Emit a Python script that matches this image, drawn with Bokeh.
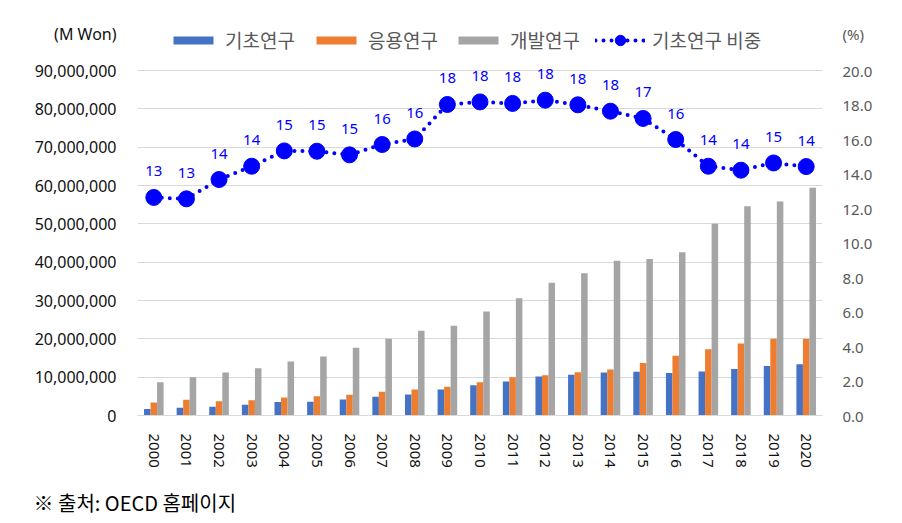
import math
from bokeh.plotting import figure
from bokeh.models import (FactorRange, Range1d, LinearAxis, FixedTicker, NumeralTickFormatter,
                          ColumnDataSource, LabelSet, Legend, LegendItem, Title)
from bokeh.transform import dodge
from bokeh.core.properties import value
from bokeh.embed import file_html
from bokeh.resources import INLINE

# ---------------- data ----------------
years = [str(y) for y in range(2000, 2021)]
basic = [1720000, 2000000, 2300000, 2800000, 3500000, 3600000, 4200000, 4900000, 5500000, 6800000,
         7900000, 8900000, 10200000, 10600000, 11200000, 11400000, 11100000, 11500000, 12100000,
         12900000, 13400000]
applied = [3400000, 4100000, 3700000, 4000000, 4700000, 5000000, 5400000, 6200000, 6800000, 7500000,
           8700000, 10000000, 10500000, 11300000, 12000000, 13700000, 15600000, 17300000, 18800000,
           20000000, 20000000]
development = [8700000, 10000000, 11200000, 12300000, 14100000, 15400000, 17700000, 20000000,
               22100000, 23400000, 27100000, 30600000, 34600000, 37100000, 40400000, 40800000,
               42600000, 50000000, 54600000, 55800000, 59400000]
share = [12.64, 12.56, 13.68, 14.45, 15.34, 15.32, 15.11, 15.71, 16.03, 18.03, 18.18, 18.09,
         18.28, 18.01, 17.64, 17.22, 16.00, 14.45, 14.22, 14.64, 14.43]
series_names = ["기초연구", "응용연구", "개발연구", "기초연구 비중"]
left_ticks = [0, 10000000, 20000000, 30000000, 40000000, 50000000, 60000000, 70000000, 80000000, 90000000]
right_ticks = [0, 2, 4, 6, 8, 10, 12, 14, 16, 18, 20]
left_unit = "(M Won)"
right_unit = "(%)"
source_note = "※ 출처: OECD 홈페이지"

# ---------------- layout constants ----------------
LEFT_MAX, RIGHT_MAX = 90000000, 20
PLOT_H = 345            # pixel height of the 0..90M span
FRAME_H = 405           # frame extends above 90M for legend / labels
FRAME_W = 685
top_scale = FRAME_H / PLOT_H
left_unit_pos = 99600000    # row of the unit captions
right_unit_pos = 22.1

src = ColumnDataSource(dict(year=years, basic=basic, applied=applied, development=development,
                            share=share, share_txt=[f"{v:.0f}" for v in share]))

NUM_FONT = "Noto Sans"
KR_FONT = "Noto Sans CJK KR"

p = figure(x_range=FactorRange(*years, range_padding=0), y_range=Range1d(0, LEFT_MAX * top_scale),
           frame_width=FRAME_W, frame_height=FRAME_H,
           min_border_left=137, min_border_right=72, min_border_top=10, min_border_bottom=100,
           output_backend="svg", toolbar_location=None)
p.extra_y_ranges = {"pct": Range1d(0, RIGHT_MAX * top_scale)}

b1 = p.vbar(x=dodge("year", -0.2, range=p.x_range), top="basic", width=0.2, source=src,
            fill_color="#4472C4", line_color=None)
b2 = p.vbar(x=dodge("year", 0.0, range=p.x_range), top="applied", width=0.2, source=src,
            fill_color="#ED7D31", line_color=None)
b3 = p.vbar(x=dodge("year", 0.2, range=p.x_range), top="development", width=0.2, source=src,
            fill_color="#A5A5A5", line_color=None)

ln = p.line("year", "share", source=src, y_range_name="pct", line_color="#0000FF",
            line_width=4, line_dash="0 8", line_cap="round")
sc = p.scatter("year", "share", source=src, y_range_name="pct", size=16,
               fill_color="#0000FF", line_color="#0000FF")

labels = LabelSet(x="year", y="share", text="share_txt", source=src, y_range_name="pct",
                  y_offset=26, text_align="center", text_baseline="middle",
                  text_color="#0000FF", text_font_size="15px", text_font=value(NUM_FONT))
p.add_layout(labels)

# grid / outline
p.xgrid.grid_line_color = None
p.ygrid.ticker = FixedTicker(ticks=left_ticks)
p.ygrid.grid_line_color = "#D9D9D9"
p.ygrid.grid_line_width = 1
p.outline_line_color = None

# left axis
ya = p.yaxis[0]
ya.ticker = FixedTicker(ticks=left_ticks + [left_unit_pos])
ya.formatter = NumeralTickFormatter(format="0,0")
ya.major_label_overrides = {left_unit_pos: left_unit}
ya.axis_line_color = None
ya.major_tick_line_color = None
ya.minor_tick_line_color = None
ya.major_label_standoff = 15
ya.major_label_text_font = NUM_FONT
ya.major_label_text_font_size = "16px"
ya.major_label_text_color = "#111111"

# right axis
ra = LinearAxis(y_range_name="pct", ticker=FixedTicker(ticks=right_ticks + [right_unit_pos]),
                formatter=NumeralTickFormatter(format="0.0"))
ra.major_label_overrides = {right_unit_pos: right_unit}
ra.axis_line_color = None
ra.major_tick_line_color = None
ra.minor_tick_line_color = None
ra.major_label_standoff = 14
ra.major_label_text_font = NUM_FONT
ra.major_label_text_font_size = "15px"
ra.major_label_text_color = "#595959"
p.add_layout(ra, "right")

# category axis
xa = p.xaxis[0]
xa.axis_line_color = "#D9D9D9"
xa.axis_line_width = 1
xa.major_tick_line_color = None
xa.minor_tick_line_color = None
xa.major_label_orientation = -math.pi / 2
xa.major_label_standoff = 12
xa.major_label_text_font = NUM_FONT
xa.major_label_text_font_size = "15px"
xa.major_label_text_color = "#111111"

# legends (one per entry so each sits where the reference has it)
leg_common = dict(orientation="horizontal", padding=0, margin=0, border_line_alpha=0,
                  background_fill_alpha=0, label_text_font=KR_FONT, label_text_font_size="19px",
                  label_text_color="#595959", label_standoff=7, glyph_width=50, spacing=0)
bar_renderers = [b1, b2, b3]
bar_leg_x = [31, 174, 316]
for name, r, lx in zip(series_names[:3], bar_renderers, bar_leg_x):
    p.add_layout(Legend(items=[LegendItem(label=name, renderers=[r])], location=(lx, 362),
                        glyph_height=10, label_height=10, **leg_common))
p.add_layout(Legend(items=[LegendItem(label=series_names[3], renderers=[ln, sc])],
                    location=(458, 362), glyph_height=26, label_height=26, **leg_common))

# source note
p.add_layout(Title(text=source_note, align="left", offset=-104, standoff=30,
                   text_font=KR_FONT, text_font_size="20px", text_font_style="normal",
                   text_color="#000000"), "below")

open("out.html", "w").write(file_html(p, INLINE))
